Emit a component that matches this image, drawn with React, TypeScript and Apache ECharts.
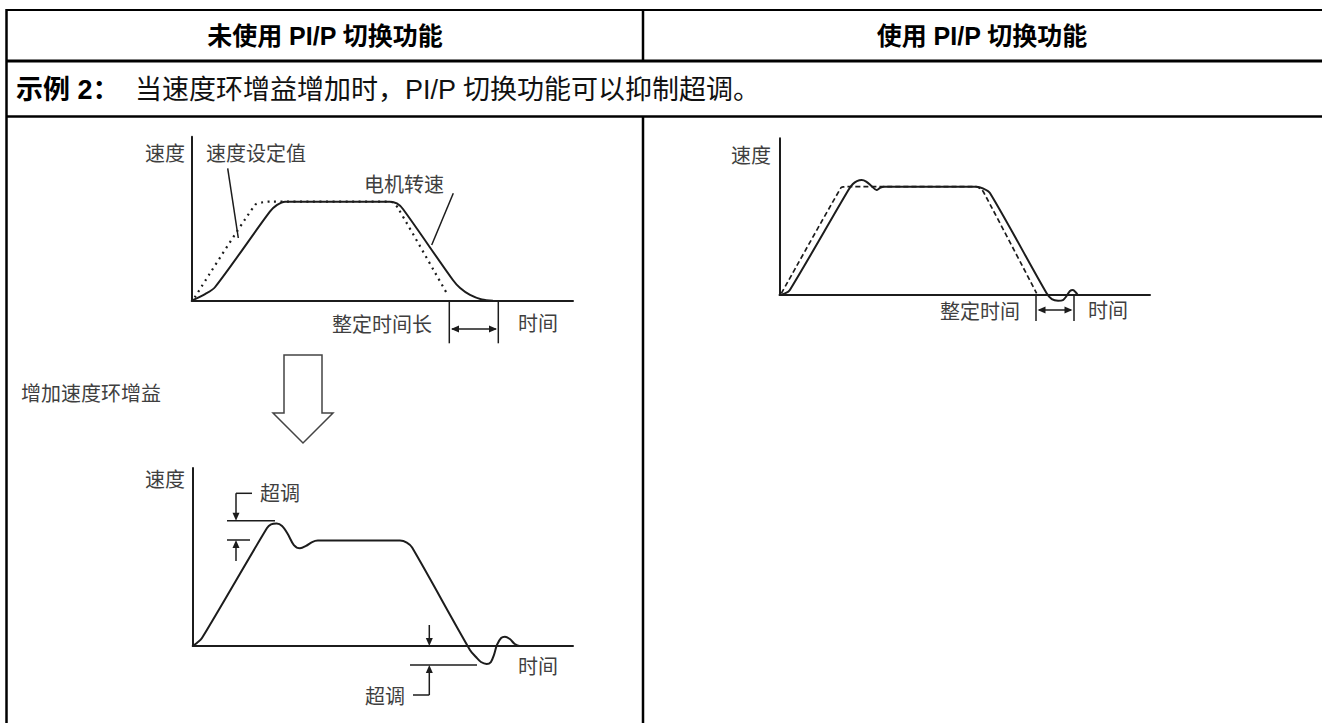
import React, { useEffect, useRef } from "react";
import * as echarts from "echarts";

// ---------- texts ----------
const headerLeft = "未使用 PI/P 切换功能";
const headerRight = "使用 PI/P 切换功能";
const exampleLabel = "示例 2：";
const exampleText = "当速度环增益增加时，PI/P 切换功能可以抑制超调。";
const speedLabel = "速度";
const timeLabel = "时间";
const setpointLabel = "速度设定值";
const motorLabel = "电机转速";
const settleLong = "整定时间长";
const settle = "整定时间";
const gainUp = "增加速度环增益";
const overshoot = "超调";

// ---------- chart A: no PI/P, normal gain (time 0..100, speed 0..100) ----------
const aSetTime = [0.8, 16.6, 18.6, 20.5, 52.0, 53.0, 54.1, 66.9];
const aSetSpeed = [2.0, 58.4, 60.0, 60.4, 60.4, 59.4, 56.5, 4.5];
const aMotTime = [0, 3.5, 6.1, 20.5, 22.4, 24.5, 52.0, 53.8, 55.4, 68.5, 70.4, 73.0, 76.1, 79.0];
const aMotSpeed = [0, 4.0, 8.2, 54.3, 58.4, 60.4, 60.4, 59.3, 55.9, 12.6, 7.7, 3.5, 0.7, 0];

// ---------- chart B: no PI/P, increased gain ----------
const bMotTime = [0, 1.1, 2.4, 19.5, 20.6, 22.1, 23.5, 25.0, 26.6, 28.2, 29.8, 31.4, 32.9, 54.5, 56.3, 57.7, 72.9, 74.5, 75.8, 77.3, 78.4, 79.2, 80.0, 81.1, 82.1, 83.4, 84.7, 86.0, 89.5];
const bMotSpeed = [0, 1.7, 4.3, 66.1, 68.3, 68.8, 67.4, 62.9, 56.7, 54.9, 56.2, 58.4, 59.2, 59.2, 58.1, 55.3, -2.2, -6.2, -9.0, -10.1, -9.0, -5.1, 0.6, 4.5, 5.2, 3.9, 1.1, 0, 0];

// ---------- chart C: with PI/P ----------
const cSetTime = [0.5, 16.6, 17.3, 18.3, 53.0, 54.4, 55.2, 69.4];
const cSetSpeed = [1.0, 68.5, 69.0, 69.1, 69.1, 67.6, 65.1, 1.1];
const cMotTime = [0, 1.5, 2.8, 18.6, 19.8, 20.9, 22.2, 23.4, 24.8, 26.2, 27.1, 28.2, 53.2, 54.9, 56.8, 72.1, 73.5, 75.2, 76.5, 77.5, 78.4, 79.2, 80.0, 80.5];
const cMotSpeed = [0, 1.0, 3.2, 67.0, 70.8, 72.7, 73.4, 72.4, 69.6, 67.0, 68.3, 69.1, 69.1, 68.0, 65.1, 1.1, -2.6, -3.6, -3.2, -0.6, 2.6, 3.2, 1.6, 0];

const zip = (t: number[], v: number[]) => t.map((x, i) => [x, v[i]]);

const INK = "#1c1c1c";
const TXT = "#3f3f3f";
const CJK = '"Noto Sans CJK SC", sans-serif';
const MIX = '"Liberation Sans", Arial, "Noto Sans CJK SC", sans-serif';

function line(x1: number, y1: number, x2: number, y2: number, w = 1.5, color = INK) {
  return { type: "line", shape: { x1, y1, x2, y2 }, style: { stroke: color, lineWidth: w }, silent: true };
}
function head(x: number, y: number, dir: "up" | "down" | "left" | "right", len = 8, half = 3.5) {
  let pts: number[][] = [];
  if (dir === "down") pts = [[x, y], [x - half, y - len], [x + half, y - len]];
  if (dir === "up") pts = [[x, y], [x - half, y + len], [x + half, y + len]];
  if (dir === "left") pts = [[x, y], [x + len, y - half], [x + len, y + half]];
  if (dir === "right") pts = [[x, y], [x - len, y - half], [x - len, y + half]];
  return { type: "polygon", shape: { points: pts }, style: { fill: INK }, silent: true };
}
function text(t: string, x: number, y: number, size: number, align = "left", opts: any = {}) {
  return {
    type: "text",
    x,
    y,
    silent: true,
    style: {
      text: t,
      fill: opts.fill || TXT,
      fontSize: size,
      fontFamily: opts.family || CJK,
      fontWeight: opts.weight || "normal",
      align,
      verticalAlign: "middle",
    },
  };
}

function axisPair(grid: number) {
  const common = {
    gridIndex: grid,
    type: "value",
    min: 0,
    max: 100,
    axisLine: { show: true, onZero: false, lineStyle: { color: INK, width: 2 } },
    axisTick: { show: false },
    axisLabel: { show: false },
    splitLine: { show: false },
  };
  return { x: { ...common }, y: { ...common } };
}

export default function App() {
  const ref = useRef<HTMLDivElement>(null);
  useEffect(() => {
    if (!ref.current) return;
    const chart = echarts.init(ref.current, undefined, { renderer: "svg" });
    const axes = [axisPair(0), axisPair(1), axisPair(2)];

    const graphic: any[] = [
      // table frame
      line(6, 10, 1322, 10, 2, "#000"),
      line(6.5, 9, 6.5, 723, 2.5, "#000"),
      line(6, 61, 1322, 61, 3, "#000"),
      line(6, 116.5, 1322, 116.5, 2.5, "#000"),
      line(643, 10, 643, 61, 2.5, "#000"),
      line(643, 116, 643, 723, 2.5, "#000"),
      text(headerLeft, 325, 36, 25, "center", { fill: "#000", family: MIX, weight: "bold" }),
      text(headerRight, 982, 36, 25, "center", { fill: "#000", family: MIX, weight: "bold" }),
      text(exampleLabel, 16, 90, 27, "left", { fill: "#000", family: MIX, weight: "bold" }),
      text(exampleText, 135, 90, 27, "left", { fill: "#111", family: MIX }),

      // chart A labels
      text(speedLabel, 185, 152, 20, "right"),
      text(setpointLabel, 206, 152, 20, "left"),
      line(227.7, 168.3, 238.3, 238, 1.5),
      text(motorLabel, 404, 183, 20, "center"),
      line(453.3, 193.3, 431.7, 245, 1.5),
      text(settleLong, 432, 323, 20, "right"),
      line(449.3, 300.7, 449.3, 343.3, 1.5),
      line(498.3, 300.7, 498.3, 343.3, 1.5),
      line(452, 329, 496, 329, 1.5),
      head(451, 329, "left"),
      head(497, 329, "right"),
      text(timeLabel, 518, 322, 20, "left"),

      // gain arrow
      text(gainUp, 21, 392, 20, "left"),
      {
        type: "polygon",
        silent: true,
        shape: { points: [[284, 355], [322, 355], [322, 413], [333, 413], [303, 443], [273, 413], [284, 413]] },
        style: { fill: "#fff", stroke: "#444", lineWidth: 1.5 },
      },

      // chart B labels
      text(speedLabel, 185, 478, 20, "right"),
      line(227, 520.7, 275, 520.7, 1.5),
      line(227, 540, 250, 540, 1.5),
      line(236, 493.3, 236, 514, 1.5),
      line(236, 493.3, 252, 493.3, 1.5),
      head(236, 520.7, "down"),
      head(236, 540, "up"),
      line(236, 546, 236, 561, 1.5),
      text(overshoot, 260, 492, 20, "left"),
      line(429.3, 625, 429.3, 640, 1.5),
      head(429.3, 646, "down"),
      line(410, 665, 477, 665, 1.5),
      head(429.3, 665, "up"),
      line(429.3, 671, 429.3, 695, 1.5),
      line(413, 695, 429.3, 695, 1.5),
      text(overshoot, 405, 695, 20, "right"),
      text(timeLabel, 518, 665, 20, "left"),

      // chart C labels
      text(speedLabel, 771, 154, 20, "right"),
      line(1036, 295, 1036, 321, 1.5),
      line(1074, 295, 1074, 321, 1.5),
      line(1039, 310, 1071, 310, 1.5),
      head(1037.5, 310, "left"),
      head(1072.5, 310, "right"),
      text(settle, 1020, 310, 20, "right"),
      text(timeLabel, 1088, 309, 20, "left"),
    ];

    chart.setOption({
      animation: false,
      backgroundColor: "#fff",
      grid: [
        { left: 191.7, top: 136.7, width: 381.3, height: 164 },
        { left: 192.7, top: 468, width: 380.3, height: 178 },
        { left: 779.5, top: 138.3, width: 370.5, height: 156.7 },
      ],
      xAxis: axes.map((a) => a.x),
      yAxis: axes.map((a) => a.y),
      series: [
        {
          type: "line", xAxisIndex: 0, yAxisIndex: 0, data: zip(aSetTime, aSetSpeed),
          symbol: "none", smooth: 0.3, silent: true,
          lineStyle: { color: INK, width: 2.2, type: [2, 4.5] },
        },
        {
          type: "line", xAxisIndex: 0, yAxisIndex: 0, data: zip(aMotTime, aMotSpeed),
          symbol: "none", smooth: 0.3, silent: true,
          lineStyle: { color: INK, width: 2 },
        },
        {
          type: "line", xAxisIndex: 1, yAxisIndex: 1, data: zip(bMotTime, bMotSpeed),
          symbol: "none", smooth: 0.3, clip: false, silent: true,
          lineStyle: { color: INK, width: 2 },
        },
        {
          type: "line", xAxisIndex: 2, yAxisIndex: 2, data: zip(cSetTime, cSetSpeed),
          symbol: "none", smooth: 0.3, silent: true,
          lineStyle: { color: INK, width: 1.7, type: [5, 3] },
        },
        {
          type: "line", xAxisIndex: 2, yAxisIndex: 2, data: zip(cMotTime, cMotSpeed),
          symbol: "none", smooth: 0.3, clip: false, silent: true,
          lineStyle: { color: INK, width: 2 },
        },
      ],
      graphic,
    });
    return () => chart.dispose();
  }, []);
  return (
    <div
      ref={ref}
      style={{ position: "absolute", left: 0, top: 0, width: 1322, height: 723, background: "#fff" }}
    />
  );
}
